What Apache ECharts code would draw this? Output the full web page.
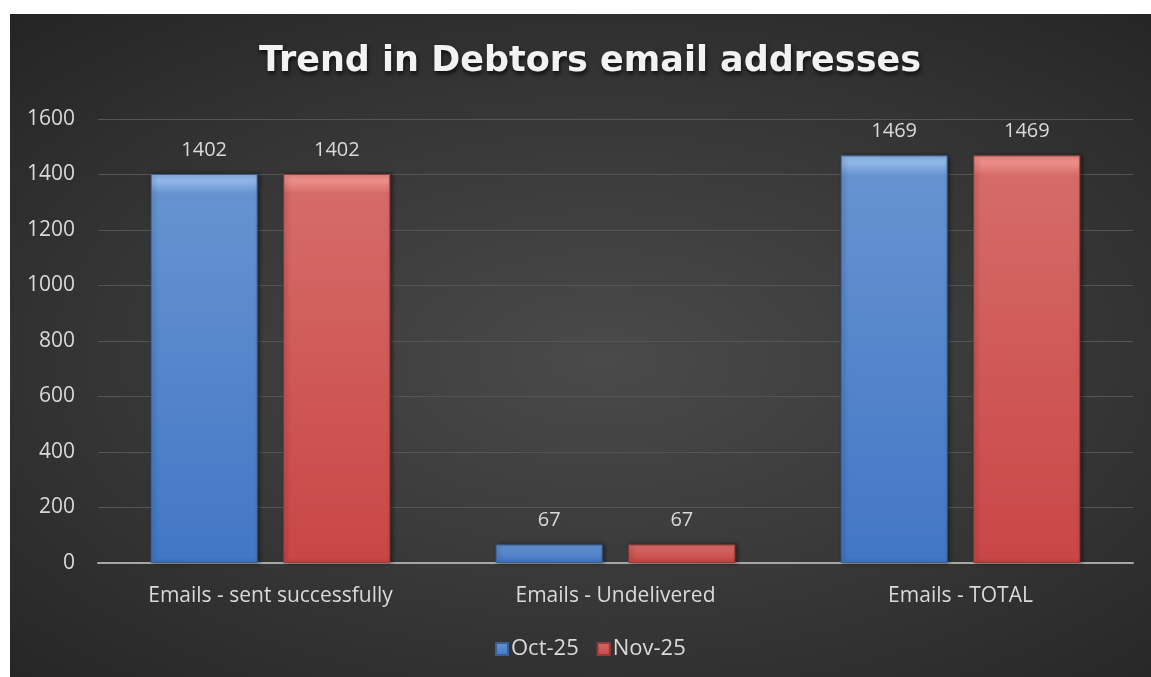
<!DOCTYPE html>
<html>
<head>
<meta charset="utf-8">
<script src="https://cdn.jsdelivr.net/npm/echarts@6/dist/echarts.min.js"></script>
<style>
  html, body { margin: 0; padding: 0; background: #ffffff; }
  #panel {
    position: absolute; left: 10px; top: 14px; width: 1141px; height: 663px;
    background: radial-gradient(ellipse 75% 70% at 52% 52%, #4a4a4a 0%, #3a3a3a 45%, #252525 100%);
  }
  #chart { position: absolute; left: 0; top: 0; width: 1151px; height: 677px; }
</style>
</head>
<body>
<div id="panel"></div>
<div id="chart"></div>
<script>
// Debtor email delivery counts per month
const categories = ['Emails - sent successfully', 'Emails - Undelivered', 'Emails - TOTAL'];
const seriesNames = ['Oct-25', 'Nov-25'];
const oct25 = [1402, 67, 1469];
const nov25 = [1402, 67, 1469];
const yTicks = [0, 200, 400, 600, 800, 1000, 1200, 1400, 1600];

const FONT = 'Open Sans';
const LABEL_COLOR = '#d9d9d9';
const LABEL_SIZE = 21;

function barFill(top, mid, bottom) {
  return new echarts.graphic.LinearGradient(0, 0, 0, 1, [
    { offset: 0, color: top },
    { offset: 0.02, color: top },
    { offset: 0.05, color: mid },
    { offset: 1, color: bottom }
  ]);
}

const blueFill = barFill('#8fb4e6', '#6693d0', '#4277c6');
const redFill = barFill('#eb8c88', '#d56b67', '#c94646');

function makeSeries(name, values, fill, border) {
  return {
    name: name,
    type: 'bar',
    data: values,
    barWidth: 107,
    barGap: '24%',
    itemStyle: {
      color: fill,
      borderColor: border,
      borderWidth: 1,
      shadowColor: 'rgba(0,0,0,0.45)',
      shadowBlur: 4,
      shadowOffsetX: 2,
      shadowOffsetY: 0
    },
    label: {
      show: true,
      position: 'top',
      distance: 14,
      color: LABEL_COLOR,
      fontFamily: FONT,
      fontSize: 20
    }
  };
}

const chart = echarts.init(document.getElementById('chart'), null, { renderer: 'canvas' });
chart.setOption({
  backgroundColor: 'transparent',
  animation: false,
  title: {
    text: 'Trend in Debtors email addresses',
    left: 585,
    textAlign: 'center',
    top: 39,
    textStyle: {
      color: '#f2f2f2',
      fontFamily: 'DejaVu Sans',
      fontWeight: 'bold',
      fontSize: 35,
      textShadowColor: 'rgba(0,0,0,0.7)',
      textShadowBlur: 4,
      textShadowOffsetX: 1,
      textShadowOffsetY: 3
    }
  },
  legend: {
    data: seriesNames,
    bottom: 12,
    left: 490,
    itemWidth: 12,
    itemHeight: 12,
    itemGap: 18,
    icon: 'rect',
    textStyle: { color: LABEL_COLOR, fontFamily: FONT, fontSize: 22, padding: [0, 0, 0, -2] }
  },
  grid: { left: 98, right: 18, top: 119, bottom: 114, containLabel: false },
  xAxis: {
    type: 'category',
    data: categories,
    axisLine: { lineStyle: { color: '#a6a6a6', width: 2 } },
    axisTick: { show: false },
    axisLabel: { color: LABEL_COLOR, fontFamily: FONT, fontSize: LABEL_SIZE, margin: 23 }
  },
  yAxis: {
    type: 'value',
    min: yTicks[0],
    max: yTicks[yTicks.length - 1],
    interval: yTicks[1] - yTicks[0],
    axisLine: { show: false },
    axisTick: { show: false },
    splitLine: { lineStyle: { color: '#555555', width: 1 } },
    axisLabel: {
      color: LABEL_COLOR, fontFamily: FONT, fontSize: LABEL_SIZE, margin: 23,
      formatter: function (v) { return String(v); }
    }
  },
  series: [
    makeSeries(seriesNames[0], oct25, blueFill, '#3a5f96'),
    makeSeries(seriesNames[1], nov25, redFill, '#9a3a38')
  ]
});
</script>
</body>
</html>
